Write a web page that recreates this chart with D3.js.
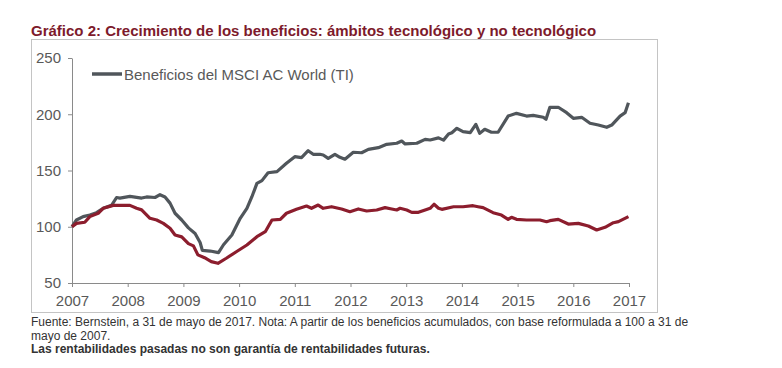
<!DOCTYPE html>
<html><head><meta charset="utf-8">
<script src="https://cdn.jsdelivr.net/npm/d3@7"></script>
<style>
html,body{margin:0;padding:0;background:#fff;}
svg{display:block;}
</style></head>
<body>
<svg id="c" width="782" height="368"></svg>
<script>
const titleText = "Gráfico 2: Crecimiento de los beneficios: ámbitos tecnológico y no tecnológico";
const legendLabel = "Beneficios del MSCI AC World (TI)";
const footLines = ["Fuente: Bernstein, a 31 de mayo de 2017. Nota: A partir de los beneficios acumulados, con base reformulada a 100 a 31 de", "mayo de 2007."];
const footBold = "Las rentabilidades pasadas no son garantía de rentabilidades futuras.";
const yTicks = [50, 100, 150, 200, 250];
const xTicks = [2007, 2008, 2009, 2010, 2011, 2012, 2013, 2014, 2015, 2016, 2017];

// grey series (TI)
const greyYears = [2007.0,2007.08,2007.2,2007.32,2007.44,2007.56,2007.71,2007.8,2007.86,2008.04,2008.25,2008.34,2008.49,2008.58,2008.67,2008.76,2008.85,2008.97,2009.09,2009.21,2009.3,2009.34,2009.48,2009.63,2009.72,2009.87,2010.02,2010.14,2010.23,2010.32,2010.41,2010.52,2010.68,2010.85,2011.0,2011.12,2011.24,2011.33,2011.45,2011.51,2011.6,2011.72,2011.81,2011.9,2012.05,2012.2,2012.32,2012.5,2012.65,2012.83,2012.92,2012.98,2013.19,2013.34,2013.43,2013.58,2013.67,2013.76,2013.82,2013.91,2014.02,2014.15,2014.25,2014.32,2014.41,2014.53,2014.65,2014.83,2014.98,2015.16,2015.28,2015.46,2015.51,2015.58,2015.73,2015.88,2016.0,2016.15,2016.3,2016.45,2016.6,2016.69,2016.84,2016.93,2016.99];
const greyVals = [100,106,109,110.4,112.5,116.4,119,126,125.5,127,125.5,126.5,126,128.5,126.5,121,112,106,99,94,86,79,78.4,77,84,92.7,107.5,116.4,126.7,138.6,141,148,149,156.4,162.3,161.4,167.6,164.4,164.4,163.8,160.8,164.4,161.7,160,166.2,165.8,168.8,170.3,173.3,174.2,176.2,173.6,174.2,177.7,177.1,179,177,182.4,183.6,187.5,184.5,183.6,191,183,186.6,184,184,198.4,200.8,198.4,199,197.3,195.5,206.2,206.2,201.4,196.4,197.3,192,190.4,188.4,190.4,198.4,201.4,210.3];

// red series (no TI)
const redYears = [2007.0,2007.08,2007.23,2007.32,2007.47,2007.56,2007.74,2007.92,2008.04,2008.16,2008.25,2008.4,2008.52,2008.64,2008.76,2008.85,2008.97,2009.09,2009.18,2009.26,2009.38,2009.5,2009.62,2009.77,2009.95,2010.14,2010.32,2010.47,2010.59,2010.74,2010.85,2011.03,2011.21,2011.3,2011.42,2011.51,2011.66,2011.84,2011.99,2012.14,2012.29,2012.47,2012.62,2012.74,2012.83,2012.89,2013.01,2013.1,2013.22,2013.34,2013.43,2013.5,2013.58,2013.64,2013.85,2014.02,2014.2,2014.29,2014.38,2014.56,2014.71,2014.83,2014.89,2014.98,2015.16,2015.4,2015.52,2015.58,2015.73,2015.91,2016.09,2016.27,2016.42,2016.57,2016.72,2016.81,2016.99];
const redVals = [100,103,104,109,112,116.4,119,119,119,116.4,115,107.5,106,103,98.6,92.7,91,85,83,75,72.5,69,67.5,72,77.8,83.8,91.2,95.6,106,106.6,112,115.5,118.4,116.4,119.3,116.4,117.8,115.8,113.4,115.8,114,114.9,117,115.8,114.9,116.4,114.9,112.8,112.8,114.9,116.4,120,116.4,115.5,117.8,117.8,118.7,117.8,117,112.5,110.4,106.6,108.4,106.6,106,106,104.5,105.4,106.6,102.4,103,100.7,97.1,99.5,103.6,104.5,109];

const svg = d3.select("#c");
const greyC = "#50565b", redC = "#8c1d2d", axisC = "#8a8a8a", textC = "#595959";

// frame
svg.append("rect").attr("x", 31.5).attr("y", 39.5).attr("width", 626).attr("height", 273)
  .attr("fill", "none").attr("stroke", "#c4c4c4").attr("stroke-width", 1);

// title
svg.append("text").attr("x", 31).attr("y", 36)
  .attr("font-family", "Liberation Sans, Arial, sans-serif").attr("font-weight", "bold")
  .attr("font-size", 15).attr("fill", "#7d1a2b").text(titleText);

const x = d3.scaleLinear().domain([2007, 2017]).range([72, 629]);
const y = d3.scaleLinear().domain([50, 250]).range([283, 58]);

const yAxis = svg.append("g").attr("transform", "translate(72,0)")
  .call(d3.axisLeft(y).tickValues(yTicks).tickSize(4).tickPadding(7).tickSizeOuter(0));
const xAxis = svg.append("g").attr("transform", "translate(0,283)")
  .call(d3.axisBottom(x).tickValues(xTicks).tickFormat(d3.format("d")).tickSize(4).tickPadding(8).tickSizeOuter(0));
[yAxis, xAxis].forEach(g => {
  g.select(".domain").attr("stroke", axisC);
  g.selectAll(".tick line").attr("stroke", axisC);
  g.selectAll("text").attr("fill", textC).attr("font-size", 15)
    .attr("font-family", "Liberation Sans, Arial, sans-serif");
});

const line = d3.line().x(d => x(d[0])).y(d => y(d[1]));
const greyData = greyYears.map((t, i) => [t, greyVals[i]]);
const redData = redYears.map((t, i) => [t, redVals[i]]);

svg.append("path").datum(greyData).attr("d", line).attr("fill", "none")
  .attr("stroke", greyC).attr("stroke-width", 3.2).attr("stroke-linejoin", "round");
svg.append("path").datum(redData).attr("d", line).attr("fill", "none")
  .attr("stroke", redC).attr("stroke-width", 3.2).attr("stroke-linejoin", "round");

// legend
svg.append("line").attr("x1", 92).attr("x2", 122).attr("y1", 74).attr("y2", 74)
  .attr("stroke", greyC).attr("stroke-width", 3.5);
svg.append("text").attr("x", 124).attr("y", 79.5).attr("font-size", 15)
  .attr("font-family", "Liberation Sans, Arial, sans-serif").attr("fill", textC).text(legendLabel);

// footnotes
const ff = "Liberation Sans Narrow, Arial Narrow, Liberation Sans, Arial, sans-serif";
footLines.forEach((s, i) => {
  svg.append("text").attr("x", 31).attr("y", 326 + i * 13.5).attr("font-size", 12)
    .attr("font-family", ff).attr("fill", "#333").text(s);
});
svg.append("text").attr("x", 31).attr("y", 353).attr("font-size", 12).attr("font-weight", "bold")
  .attr("font-family", ff).attr("fill", "#333").text(footBold);
</script>
</body></html>
